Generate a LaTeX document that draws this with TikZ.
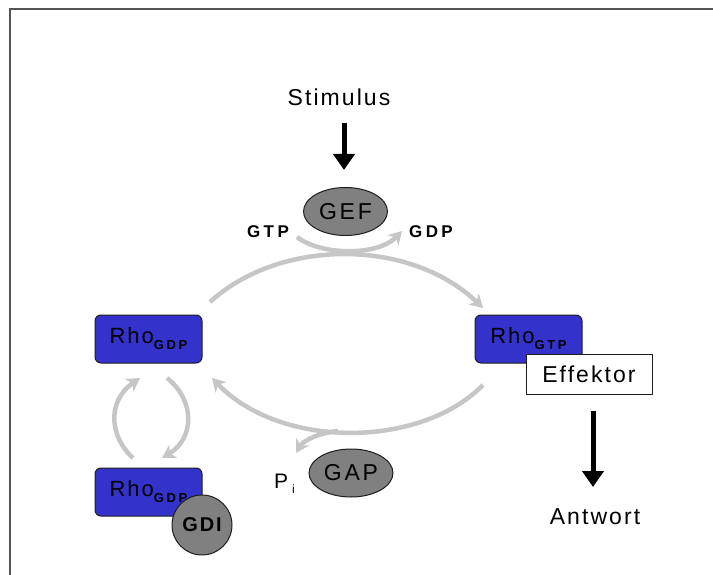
\documentclass[tikz,border=0pt]{standalone}
\usepackage{fontspec}
\setmainfont{Liberation Sans}
\newfontfamily\lsp[LetterSpace=9]{Liberation Sans}
\newfontfamily\lspm[LetterSpace=12]{Liberation Sans}
\newfontfamily\lspw[LetterSpace=20]{Liberation Sans}
\usetikzlibrary{arrows.meta,shapes.geometric}
\definecolor{rhoblue}{RGB}{51,51,204}
\definecolor{protgray}{RGB}{128,128,128}
\definecolor{cyclegray}{RGB}{198,198,198}
\definecolor{edgedark}{RGB}{30,30,30}
\definecolor{framegray}{RGB}{85,85,85}
\newcommand{\bigtxt}{\lsp\fontsize{23}{26}\selectfont}
\newcommand{\prottxt}{\lspm\fontsize{23}{26}\selectfont}
\newcommand{\smalltxt}{\lspw\bfseries\fontsize{17}{19}\selectfont}
\newcommand{\rholabel}[1]{{\lsp\fontsize{22}{24}\selectfont Rho}\raisebox{-6pt}{\lspw\bfseries\fontsize{13}{14}\selectfont #1}}
\tikzset{
  txt/.style={inner sep=0pt, font=\bigtxt},
  tag/.style={inner sep=0pt, font=\smalltxt},
  rhobox/.style={draw=edgedark, line width=1pt, fill=rhoblue, rounded corners=6pt,
    minimum width=107pt, minimum height=48pt, inner sep=0pt},
  prot/.style={ellipse, draw=edgedark, line width=1pt, fill=protgray,
    minimum width=84pt, minimum height=48pt, inner sep=0pt, font=\prottxt},
  signal/.style={line width=5pt, -{Triangle[width=21pt,length=16pt]}},
  cycle/.style={draw=cyclegray, line width=4.5pt, -{Stealth[width=15pt,length=13pt,inset=4pt]}}
}
\begin{document}
\begin{tikzpicture}[x=1pt,y=-1pt]
\useasboundingbox (0,0) rectangle (713,575);
% frame lines
\draw[framegray, line width=2pt] (713,9) -- (10,9) -- (10,575);

% anchor points of the grey cycle arrows
\coordinate (topS) at (210,302);
\coordinate (topE) at (483,308);
\coordinate (botS) at (483,385);
\coordinate (botE) at (212,378);
\coordinate (gS) at (297,237);
\coordinate (gE) at (402,231);
\coordinate (pS) at (338,431);
\coordinate (pE) at (296,453);
\coordinate (lS) at (133,458);
\coordinate (lE) at (140,378);
\coordinate (rS) at (167,378);
\coordinate (rE) at (162,458);

% activation / inactivation cycle
\draw[cycle] (topS) .. controls (280,238) and (410,238) .. (topE);
\draw[cycle] (botS) .. controls (420,449) and (280,449) .. (botE);
\draw[cycle] (gS) .. controls (322,256) and (378,256) .. (gE);
\draw[cycle] (pS) .. controls (318,433) and (303,441) .. (pE);
\draw[cycle] (lS) .. controls (108,435) and (108,400) .. (lE);
\draw[cycle] (rS) .. controls (195,400) and (195,438) .. (rE);

% stimulus input
\node[txt] (stim) at (339,97) {Stimulus};
\coordinate (stimA) at (344,123);
\node[prot] (gef) at (345.5,211.5) {GEF};
\draw[signal] (stimA) -- (344,170);

\node[tag] (gtp) at (268,232) {GTP};
\node[tag] (gdp) at (431,232) {GDP};

% Rho states
\node[rhobox] (rhogdp) at (148.5,339) {\rholabel{GDP}};
\node[rhobox] (rhogdi) at (148.5,492) {\rholabel{GDP}};
\node[circle, draw=edgedark, line width=1pt, fill=protgray, minimum size=60pt, inner sep=0pt,
  font=\lsp\bfseries\fontsize{20}{22}\selectfont] (gdi) at (202,525) {GDI};
\node[rhobox] (rhogtp) at (528.5,339) {\rholabel{GTP}};
\node[draw=edgedark, line width=1pt, fill=white, minimum width=126pt, minimum height=40pt,
  inner sep=0pt, font=\bigtxt] (eff) at (589,374) {Effektor};

% GAP
\node[prot] (gap) at (351,473) {GAP};
\node[inner sep=0pt, font=\lsp\fontsize{21}{23}\selectfont, anchor=base west] (pi) at (274,488)
  {P\hspace{4pt}\raisebox{-5pt}{\fontsize{12}{13}\selectfont i}};

% response
\node[txt] (antw) at (595,517) {Antwort};
\coordinate (effA) at (593,411);
\draw[signal] (effA) -- (593,487);
\end{tikzpicture}
\end{document}
